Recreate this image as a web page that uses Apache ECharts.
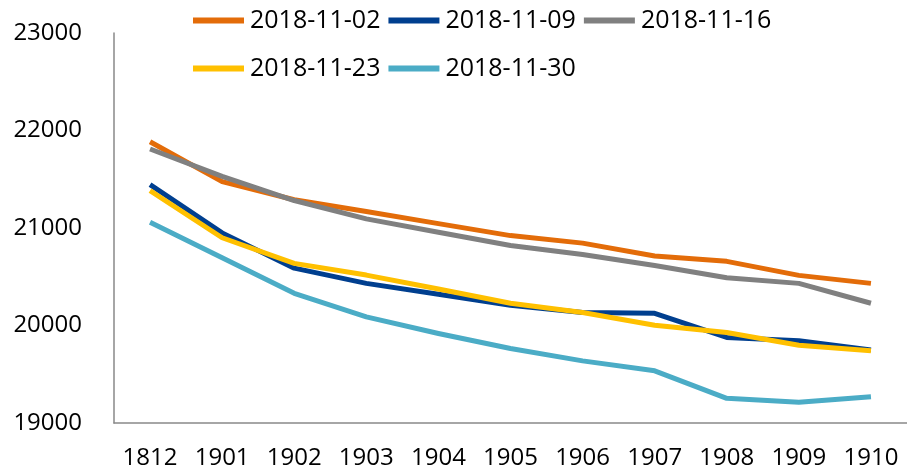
<!DOCTYPE html>
<html>
<head>
<meta charset="utf-8">
<script src="https://cdn.jsdelivr.net/npm/echarts@6/dist/echarts.min.js"></script>
<style>html,body{margin:0;padding:0;background:#fff;}#c{width:907px;height:470px;}</style>
</head>
<body>
<div id="c"></div>
<script>
const categories = ['1812','1901','1902','1903','1904','1905','1906','1907','1908','1909','1910'];
const seriesNames = ['2018-11-02','2018-11-09','2018-11-16','2018-11-23','2018-11-30'];
const s1102 = [21885, 21475, 21290, 21170, 21045, 20922, 20845, 20712, 20658, 20514, 20432];
const s1109 = [21445, 20950, 20588, 20432, 20320, 20207, 20133, 20125, 19877, 19843, 19750];
const s1116 = [21810, 21530, 21282, 21094, 20957, 20821, 20729, 20616, 20490, 20432, 20228];
const s1123 = [21384, 20900, 20637, 20517, 20374, 20228, 20133, 20003, 19928, 19798, 19740];
const s1130 = [21060, 20695, 20330, 20088, 19918, 19764, 19637, 19535, 19253, 19212, 19269];
const yTicks = [19000, 20000, 21000, 22000, 23000];
const colors = ['#E36C09', '#003F8F', '#808080', '#FFC000', '#4BACC6'];
const values = [s1102, s1109, s1116, s1123, s1130];

const font = 'Open Sans';
const chart = echarts.init(document.getElementById('c'));
const legendCommon = {
  icon: 'rect', itemWidth: 51, itemHeight: 6, itemGap: 8, padding: 0,
  textStyle: { fontFamily: font, fontSize: 25, color: '#000', padding: [2,0,0,1] },
  left: 193
};
chart.setOption({
  animation: false,
  color: colors,
  legend: [
    Object.assign({}, legendCommon, { top: 8, data: seriesNames.slice(0, 3) }),
    Object.assign({}, legendCommon, { top: 56, data: seriesNames.slice(3) })
  ],
  grid: { left: 114, top: 33, width: 796, height: 391, containLabel: false },
  xAxis: {
    type: 'category', data: categories, boundaryGap: true,
    axisLine: { lineStyle: { color: '#898989', width: 1.5 } },
    axisTick: { show: false },
    axisLabel: { fontFamily: font, fontSize: 24, color: '#000', margin: 23, interval: 0 }
  },
  yAxis: {
    type: 'value', min: yTicks[0], max: yTicks[yTicks.length - 1], interval: 1000,
    axisLine: { show: true, lineStyle: { color: '#898989', width: 1.5 } },
    axisTick: { show: false },
    splitLine: { show: false },
    axisLabel: { fontFamily: font, fontSize: 24, color: '#000', margin: 32, formatter: v => String(v) }
  },
  series: seriesNames.map((n, i) => ({
    name: n, type: 'line', data: values[i], showSymbol: false, symbol: 'none',
    lineStyle: { width: 5, color: colors[i], join: 'round' },
    itemStyle: { color: colors[i] }
  }))
});
</script>
</body>
</html>
